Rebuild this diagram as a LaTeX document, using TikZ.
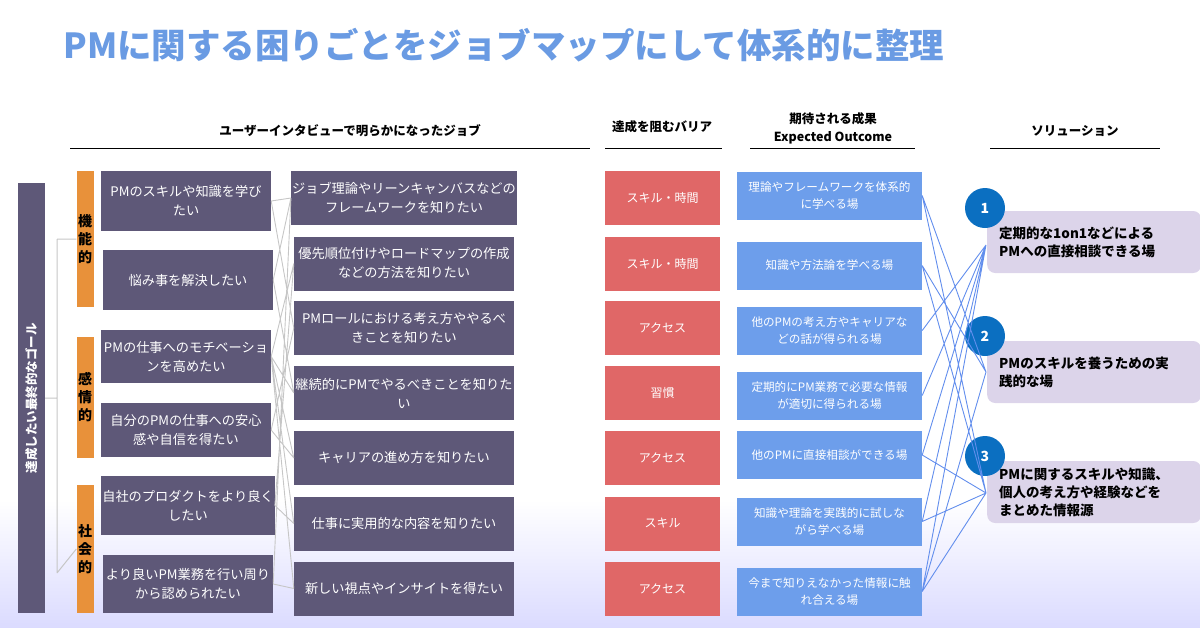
\documentclass[tikz,border=0pt]{standalone}
\usepackage{fontspec}
\setmainfont{Noto Sans CJK JP}
\begin{document}
\begin{tikzpicture}[x=1pt,y=-1pt,
  box/.style={inner sep=1pt,align=center,text=white,font=\fontsize{13.2}{19}\selectfont},
  lbox/.style={box,fill=pdark,minimum width=170pt},
  mbox/.style={box,fill=pdark,minimum width=220pt,minimum height=54pt},
  bbox/.style={box,fill=bred,minimum width=115pt,minimum height=54pt,font=\fontsize{12}{16}\selectfont},
  obox/.style={box,fill=oblue,minimum width=185pt,minimum height=48pt,font=\fontsize{11.6}{17}\selectfont},
  sbox/.style={fill=slav,rounded corners=8pt,minimum width=213pt,minimum height=62pt,anchor=west,align=left,text width=190pt,inner xsep=12pt,font=\bfseries\fontsize{13.5}{18}\selectfont},
  ob/.style={fill=orng,minimum width=17pt,text width=14pt,align=center,font=\bfseries\fontsize{14}{18}\selectfont,inner sep=0pt},
  circ/.style={circle,fill=cblue,minimum size=40pt,text=white,font=\bfseries\fontsize{14}{16}\selectfont},
  hdr/.style={font=\bfseries\fontsize{12.5}{16}\selectfont,align=center},
  gl/.style={gray!45,line width=0.9pt},
  bl/.style={oblue!90!blue,line width=0.9pt}]
\definecolor{pdark}{HTML}{5E5878}
\definecolor{bred}{HTML}{E06767}
\definecolor{oblue}{HTML}{6D9EEB}
\definecolor{slav}{HTML}{DCD4EA}
\definecolor{orng}{HTML}{E8913A}
\definecolor{cblue}{HTML}{0B6FC1}
\definecolor{ttl}{HTML}{6A9BE3}
\useasboundingbox (0,0) rectangle (1200,627);
\fill[top color=white,bottom color=blue!14] (0,500) rectangle (1200,627);
\node[font=\bfseries\fontsize{34.5}{40}\selectfont,text=ttl,anchor=west] (title) at (60,45) {PMに関する困りごとをジョブマップにして体系的に整理};
% headers
\node[hdr] (h1) at (350,131) {ユーザーインタビューで明らかになったジョブ};
\node[hdr] (h2) at (662,127) {達成を阻むバリア};
\node[hdr,font=\bfseries\fontsize{12.5}{18}\selectfont] (h3) at (833,128) {期待される成果\\Expected Outcome};
\node[hdr] (h4) at (1075,131) {ソリューション};
\draw[line width=0.8pt] (70,148) -- (590,148) (605,148) -- (722,148) (750,148) -- (915,148) (990,148) -- (1160,148);
% goal bar
\node[fill=pdark,minimum width=27pt,minimum height=430pt,inner sep=0pt] (goal) at (31.5,398) {};
\node[rotate=90,text=white,font=\bfseries\fontsize{12.5}{16}\selectfont] (goalt) at (goal.center) {達成したい最終的なゴール};
\node[ob,minimum height=136pt] (o1) at (85,239) {機\\能\\的};
\node[ob,minimum height=121pt] (o2) at (85,397.5) {感\\情\\的};
\node[ob,minimum height=128pt] (o3) at (85,549) {社\\会\\的};
\coordinate (tj) at (57,398);
\draw[gray!45,line width=1pt] (goal.east) -- (tj) (57,239) -- (57,573) (57,239) -- (o1.west) (57,573) -- (o3.west);
% left boxes
\node[lbox,minimum height=60pt] (l1) at (186,201) {PMのスキルや知識を学び\\たい};
\node[lbox,minimum height=60pt] (l2) at (188,280) {悩み事を解決したい};
\node[lbox,minimum height=53pt] (l3) at (186,356.5) {PMの仕事へのモチベーショ\\ンを高めたい};
\node[lbox,minimum height=54pt] (l4) at (186,430) {自分のPMの仕事への安心\\感や自信を得たい};
\node[lbox,minimum height=59pt] (l5) at (188,505.5) {自社のプロダクトをより良く\\したい};
\node[lbox,minimum height=58pt] (l6) at (188,584) {より良いPM業務を行い周り\\から認められたい};
% middle boxes
\node[mbox] (m1) at (404,198) {ジョブ理論やリーンキャンバスなどの\\フレームワークを知りたい};
\node[mbox] (m2) at (404,263.5) {優先順位付けやロードマップの作成\\などの方法を知りたい};
\node[mbox] (m3) at (404,328) {PMロールにおける考え方ややるべ\\きことを知りたい};
\node[mbox] (m4) at (404,393) {継続的にPMでやるべきことを知りた\\い};
\node[mbox] (m5) at (404,458) {キャリアの進め方を知りたい};
\node[mbox] (m6) at (404,523.5) {仕事に実用的な内容を知りたい};
\node[mbox] (m7) at (404,588.5) {新しい視点やインサイトを得たい};
% barrier boxes
\node[bbox] (b1) at (662.5,198) {スキル・時間};
\node[bbox] (b2) at (662.5,263.5) {スキル・時間};
\node[bbox] (b3) at (662.5,328) {アクセス};
\node[bbox] (b4) at (662.5,393) {習慣};
\node[bbox] (b5) at (662.5,458) {アクセス};
\node[bbox] (b6) at (662.5,523.5) {スキル};
\node[bbox] (b7) at (662.5,588.5) {アクセス};
% outcome boxes
\node[obox] (e1) at (829.5,195.5) {理論やフレームワークを体系的\\に学べる場};
\node[obox] (e2) at (829.5,265.5) {知識や方法論を学べる場};
\node[obox] (e3) at (829.5,330.5) {他のPMの考え方やキャリアな\\どの話が得られる場};
\node[obox] (e4) at (829.5,395.5) {定期的にPM業務で必要な情報\\が適切に得られる場};
\node[obox] (e5) at (829.5,455) {他のPMに直接相談ができる場};
\node[obox] (e6) at (829.5,521.5) {知識や理論を実践的に試しな\\がら学べる場};
\node[obox] (e7) at (829.5,591.5) {今まで知りえなかった情報に触\\れ合える場};
% solutions
\node[sbox] (s1) at (987,242) {定期的な1on1などによる\\PMへの直接相談できる場};
\node[sbox] (s2) at (987,372) {PMのスキルを養うための実\\践的な場};
\node[sbox] (s3) at (987,492) {PMに関するスキルや知識、\\個人の考え方や経験などを\\まとめた情報源};
\node[circ] (c1) at (985,208) {1};
\node[circ] (c2) at (985,336) {2};
\node[circ] (c3) at (985,456) {3};
% gray connectors
\draw[gl] (l1.east) -- (m1.west) (l1.east) -- (m3.west) (l2.east) -- (m1.west) (l2.east) -- (m4.west)
  (l3.east) -- (m2.west) (l3.east) -- (m4.west) (l3.east) -- (m5.west) (l3.east) -- (m6.west) (l3.east) -- (m7.west)
  (l4.east) -- (m3.west) (l4.east) -- (m5.west) (l5.east) -- (m2.west) (l5.east) -- (m6.west) (l6.east) -- (m1.west) (l6.east) -- (m7.west);
% blue connectors
\coordinate (p1) at (986,245);
\coordinate (p2) at (986,372);
\coordinate (p3) at (986,493);
\draw[bl] (e1.east) -- (p2) (e1.east) -- (p3) (e2.east) -- (p2) (e2.east) -- (p3)
  (e3.east) -- (p1) (e4.east) -- (p1) (e5.east) -- (p1) (e5.east) -- (p3)
  (e6.east) -- (p1) (e6.east) -- (p3) (e7.east) -- (p1) (e7.east) -- (p3) (e7.east) -- (p2);
\end{tikzpicture}
\end{document}
